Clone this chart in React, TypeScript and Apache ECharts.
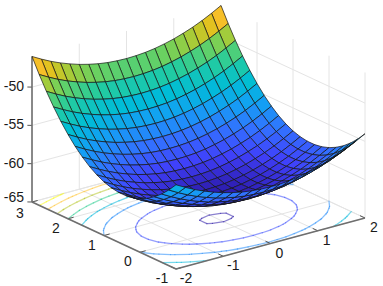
import React, { useEffect, useRef } from "react";
import * as echarts from "echarts";

const xValues = [-2,-1.8,-1.6,-1.4,-1.2,-1,-0.8,-0.6,-0.4,-0.2,0,0.2,0.4,0.6,0.8,1,1.2,1.4,1.6,1.8,2];
const yValues = [-1,-0.8,-0.6,-0.4,-0.2,0,0.2,0.4,0.6,0.8,1,1.2,1.4,1.6,1.8,2,2.2,2.4,2.6,2.8,3];
// rows follow yValues, columns follow xValues
const zRows = [
[-54.00,-54.68,-55.30,-55.84,-56.30,-56.70,-57.02,-57.28,-57.46,-57.56,-57.60,-57.56,-57.46,-57.28,-57.02,-56.70,-56.30,-55.84,-55.30,-54.68,-54.00],
[-55.12,-55.80,-56.42,-56.96,-57.42,-57.82,-58.14,-58.40,-58.58,-58.68,-58.72,-58.68,-58.58,-58.40,-58.14,-57.82,-57.42,-56.96,-56.42,-55.80,-55.12],
[-56.08,-56.76,-57.38,-57.92,-58.38,-58.78,-59.10,-59.36,-59.54,-59.64,-59.68,-59.64,-59.54,-59.36,-59.10,-58.78,-58.38,-57.92,-57.38,-56.76,-56.08],
[-56.88,-57.56,-58.18,-58.72,-59.18,-59.58,-59.90,-60.16,-60.34,-60.44,-60.48,-60.44,-60.34,-60.16,-59.90,-59.58,-59.18,-58.72,-58.18,-57.56,-56.88],
[-57.52,-58.20,-58.82,-59.36,-59.82,-60.22,-60.54,-60.80,-60.98,-61.08,-61.12,-61.08,-60.98,-60.80,-60.54,-60.22,-59.82,-59.36,-58.82,-58.20,-57.52],
[-58.00,-58.68,-59.30,-59.84,-60.30,-60.70,-61.02,-61.28,-61.46,-61.56,-61.60,-61.56,-61.46,-61.28,-61.02,-60.70,-60.30,-59.84,-59.30,-58.68,-58.00],
[-58.32,-59.00,-59.62,-60.16,-60.62,-61.02,-61.34,-61.60,-61.78,-61.88,-61.92,-61.88,-61.78,-61.60,-61.34,-61.02,-60.62,-60.16,-59.62,-59.00,-58.32],
[-58.48,-59.16,-59.78,-60.32,-60.78,-61.18,-61.50,-61.76,-61.94,-62.04,-62.08,-62.04,-61.94,-61.76,-61.50,-61.18,-60.78,-60.32,-59.78,-59.16,-58.48],
[-58.48,-59.16,-59.78,-60.32,-60.78,-61.18,-61.50,-61.76,-61.94,-62.04,-62.08,-62.04,-61.94,-61.76,-61.50,-61.18,-60.78,-60.32,-59.78,-59.16,-58.48],
[-58.32,-59.00,-59.62,-60.16,-60.62,-61.02,-61.34,-61.60,-61.78,-61.88,-61.92,-61.88,-61.78,-61.60,-61.34,-61.02,-60.62,-60.16,-59.62,-59.00,-58.32],
[-58.00,-58.68,-59.30,-59.84,-60.30,-60.70,-61.02,-61.28,-61.46,-61.56,-61.60,-61.56,-61.46,-61.28,-61.02,-60.70,-60.30,-59.84,-59.30,-58.68,-58.00],
[-57.52,-58.20,-58.82,-59.36,-59.82,-60.22,-60.54,-60.80,-60.98,-61.08,-61.12,-61.08,-60.98,-60.80,-60.54,-60.22,-59.82,-59.36,-58.82,-58.20,-57.52],
[-56.88,-57.56,-58.18,-58.72,-59.18,-59.58,-59.90,-60.16,-60.34,-60.44,-60.48,-60.44,-60.34,-60.16,-59.90,-59.58,-59.18,-58.72,-58.18,-57.56,-56.88],
[-56.08,-56.76,-57.38,-57.92,-58.38,-58.78,-59.10,-59.36,-59.54,-59.64,-59.68,-59.64,-59.54,-59.36,-59.10,-58.78,-58.38,-57.92,-57.38,-56.76,-56.08],
[-55.12,-55.80,-56.42,-56.96,-57.42,-57.82,-58.14,-58.40,-58.58,-58.68,-58.72,-58.68,-58.58,-58.40,-58.14,-57.82,-57.42,-56.96,-56.42,-55.80,-55.12],
[-54.00,-54.68,-55.30,-55.84,-56.30,-56.70,-57.02,-57.28,-57.46,-57.56,-57.60,-57.56,-57.46,-57.28,-57.02,-56.70,-56.30,-55.84,-55.30,-54.68,-54.00],
[-52.72,-53.40,-54.02,-54.56,-55.02,-55.42,-55.74,-56.00,-56.18,-56.28,-56.32,-56.28,-56.18,-56.00,-55.74,-55.42,-55.02,-54.56,-54.02,-53.40,-52.72],
[-51.28,-51.96,-52.58,-53.12,-53.58,-53.98,-54.30,-54.56,-54.74,-54.84,-54.88,-54.84,-54.74,-54.56,-54.30,-53.98,-53.58,-53.12,-52.58,-51.96,-51.28],
[-49.68,-50.36,-50.98,-51.52,-51.98,-52.38,-52.70,-52.96,-53.14,-53.24,-53.28,-53.24,-53.14,-52.96,-52.70,-52.38,-51.98,-51.52,-50.98,-50.36,-49.68],
[-47.92,-48.60,-49.22,-49.76,-50.22,-50.62,-50.94,-51.20,-51.38,-51.48,-51.52,-51.48,-51.38,-51.20,-50.94,-50.62,-50.22,-49.76,-49.22,-48.60,-47.92],
[-46.00,-46.68,-47.30,-47.84,-48.30,-48.70,-49.02,-49.28,-49.46,-49.56,-49.60,-49.56,-49.46,-49.28,-49.02,-48.70,-48.30,-47.84,-47.30,-46.68,-46.00],
];
const contourLevels = [-62,-60,-58,-56,-54,-52,-50,-48];
const xTicks = [-2,-1,0,1,2];
const yTicks = [-1,0,1,2,3];
const zTicks = [-65,-60,-55,-50];
const zMin = -65;
const zMax = -46;

const palette: number[][] = [
  [.17,.10,.66],[.25,.25,.98],[.20,.44,1],[.08,.62,.96],
  [0,.74,.84],[.14,.80,.62],[.44,.82,.36],[.72,.79,.18],
  [.90,.76,.12],[1,.74,.18],[1,.77,.2],[.98,.98,.08],
];
const paletteStops = [0,7,14,21,28,35,41,45,48,51,54,63].map((n) => n / 63);

function paletteColor(value: number): string {
  const v = Math.max(0, Math.min(1, value));
  let k = 0;
  while (k < paletteStops.length - 2 && v > paletteStops[k + 1]) k++;
  const t = (v - paletteStops[k]) / (paletteStops[k + 1] - paletteStops[k]);
  const c = palette[k].map((a, n) => Math.round(255 * (a + (palette[k + 1][n] - a) * t)));
  return `rgb(${c[0]},${c[1]},${c[2]})`;
}
const surfaceColor = (z: number) => paletteColor((z + 62.2) / 18.8);
const contourColor = (level: number) => paletteColor((level + 62) / 14);

function project(x: number, y: number, z: number): number[] {
  return [
    176 + (x + 2) * 47.25 - (y + 1) * 36,
    269 - (x + 2) * 12.75 - (y + 1) * 16.75 - (z - zMin) * 7.66,
  ];
}

const cells: number[][] = [];
for (let j = 0; j < 20; j++) for (let i = 0; i < 20; i++) cells.push([i, j]);
const depth = ([i, j]: number[]) => {
  const mz = (zRows[j][i] + zRows[j][i + 1] + zRows[j + 1][i] + zRows[j + 1][i + 1]) / 4;
  return -33.7 * (xValues[i] + 0.1) - 44 * (yValues[j] + 0.1) + 2.94 * mz;
};
cells.sort((a, b) => depth(a) - depth(b));

function contourSegments(level: number): number[][][] {
  const segs: number[][][] = [];
  for (let j = 0; j < 20; j++) {
    for (let i = 0; i < 20; i++) {
      const corners = [[i, j], [i + 1, j], [i + 1, j + 1], [i, j + 1]];
      const hits: number[][] = [];
      for (let e = 0; e < 4; e++) {
        const a = corners[e];
        const b = corners[(e + 1) % 4];
        const za = zRows[a[1]][a[0]];
        const zb = zRows[b[1]][b[0]];
        if ((za < level) !== (zb < level)) {
          const t = (level - za) / (zb - za);
          hits.push([
            xValues[a[0]] + (xValues[b[0]] - xValues[a[0]]) * t,
            yValues[a[1]] + (yValues[b[1]] - yValues[a[1]]) * t,
          ]);
        }
      }
      if (hits.length >= 2) segs.push([hits[0], hits[1]]);
      if (hits.length === 4) segs.push([hits[2], hits[3]]);
    }
  }
  return segs;
}

type Seg = { a: number[]; b: number[]; kind: string };
const gridSegs: Seg[] = [];
const axisSegs: Seg[] = [];
zTicks.forEach((z) => {
  gridSegs.push({ a: [-2, 3, z], b: [2, 3, z], kind: "grid" });
  gridSegs.push({ a: [2, 3, z], b: [2, -1, z], kind: "grid" });
});
xTicks.forEach((x) => {
  gridSegs.push({ a: [x, -1, zMin], b: [x, 3, zMin], kind: "grid" });
  gridSegs.push({ a: [x, 3, zMin], b: [x, 3, zMax], kind: "grid" });
});
yTicks.forEach((y) => {
  gridSegs.push({ a: [-2, y, zMin], b: [2, y, zMin], kind: "grid" });
  gridSegs.push({ a: [2, y, zMin], b: [2, y, zMax], kind: "grid" });
});
xTicks.forEach((x) => axisSegs.push({ a: [x, -1, zMin], b: [x, -0.86, zMin], kind: "tick" }));
yTicks.forEach((y) => axisSegs.push({ a: [-2, y, zMin], b: [-1.88, y, zMin], kind: "tick" }));
zTicks.forEach((z) => axisSegs.push({ a: [-2, 3, z], b: [-2.06, 3.05, z], kind: "tick" }));
axisSegs.push({ a: [-2, -1, zMin], b: [2, -1, zMin], kind: "axis" });
axisSegs.push({ a: [-2, -1, zMin], b: [-2, 3, zMin], kind: "axis" });
axisSegs.push({ a: [-2, 3, zMin], b: [-2, 3, zMax], kind: "axis" });

type Lab = { text: string; p: number[]; dx: number; dy: number; align: string };
const labels: Lab[] = [
  ...xTicks.map((x) => ({ text: String(x), p: [x, -1, zMin], dx: x < 0 ? 10 : 9, dy: 9, align: "center" })),
  ...yTicks.map((y) => ({ text: String(y), p: [-2, y, zMin], dx: y < 0 ? -14 : -12, dy: y === 3 ? 11 : 9, align: "center" })),
  ...zTicks.map((z) => ({ text: String(z), p: [-2, 3, z], dx: -8, dy: z === -65 ? -5 : -1, align: "right" })),
];

const segStyles: Record<string, any> = {
  grid: { stroke: "#e4e4e4", lineWidth: 1 },
  tick: { stroke: "#555555", lineWidth: 1 },
  axis: { stroke: "#6e6e6e", lineWidth: 1.6 },
};

function segmentItem(list: Seg[]) {
  return (_: any, api: any) => {
    const s = list[api.value(0)];
    const a = api.coord(project(s.a[0], s.a[1], s.a[2]));
    const b = api.coord(project(s.b[0], s.b[1], s.b[2]));
    return { type: "line", shape: { x1: a[0], y1: a[1], x2: b[0], y2: b[1] }, style: segStyles[s.kind] };
  };
}

export default function App() {
  const ref = useRef<HTMLDivElement>(null);
  useEffect(() => {
    document.body.style.margin = "0";
    const chart = echarts.init(ref.current!, null, { renderer: "svg" });
    chart.setOption({
      animation: false,
      backgroundColor: "#ffffff",
      grid: { left: 0, right: 0, top: 0, bottom: 0 },
      xAxis: { type: "value", min: 0, max: 383, show: false },
      yAxis: { type: "value", min: 0, max: 286, inverse: true, show: false },
      series: [
        {
          type: "custom", silent: true, z: 1, clip: false,
          data: gridSegs.map((_, n) => n),
          renderItem: segmentItem(gridSegs),
        },
        {
          type: "custom", silent: true, z: 2, clip: false,
          data: contourLevels.map((l) => l),
          renderItem: (_: any, api: any) => {
            const level = api.value(0);
            const children = contourSegments(level).map((seg) => {
              const a = api.coord(project(seg[0][0], seg[0][1], zMin));
              const b = api.coord(project(seg[1][0], seg[1][1], zMin));
              return {
                type: "line",
                shape: { x1: a[0], y1: a[1], x2: b[0], y2: b[1] },
                style: { stroke: contourColor(level), lineWidth: 1.3, opacity: 0.55, lineCap: "round" },
              };
            });
            return { type: "group", children };
          },
        },
        {
          type: "custom", silent: true, z: 3, clip: false,
          data: axisSegs.map((_, n) => n),
          renderItem: segmentItem(axisSegs),
        },
        {
          type: "custom", silent: true, z: 4, clip: false,
          data: cells,
          renderItem: (_: any, api: any) => {
            const i = api.value(0);
            const j = api.value(1);
            const pts = [[i, j], [i + 1, j], [i + 1, j + 1], [i, j + 1]].map(([a, b]) =>
              api.coord(project(xValues[a], yValues[b], zRows[b][a]))
            );
            const mean = (zRows[j][i] + zRows[j][i + 1] + zRows[j + 1][i] + zRows[j + 1][i + 1]) / 4;
            return {
              type: "polygon",
              shape: { points: pts },
              style: { fill: surfaceColor(mean), stroke: "#141414", lineWidth: 0.7, lineJoin: "round" },
            };
          },
        },
        {
          type: "custom", silent: true, z: 5, clip: false,
          data: labels.map((_, n) => n),
          renderItem: (_: any, api: any) => {
            const l = labels[api.value(0)];
            const a = api.coord(project(l.p[0], l.p[1], l.p[2]));
            return {
              type: "text",
              style: {
                text: l.text, x: a[0] + l.dx, y: a[1] + l.dy,
                align: l.align, verticalAlign: "middle",
                fill: "#1a1a1a", font: '14px "Liberation Sans", Arial, sans-serif',
              },
            };
          },
        },
      ],
    });
    return () => chart.dispose();
  }, []);
  return <div ref={ref} style={{ width: 383, height: 286 }} />;
}
